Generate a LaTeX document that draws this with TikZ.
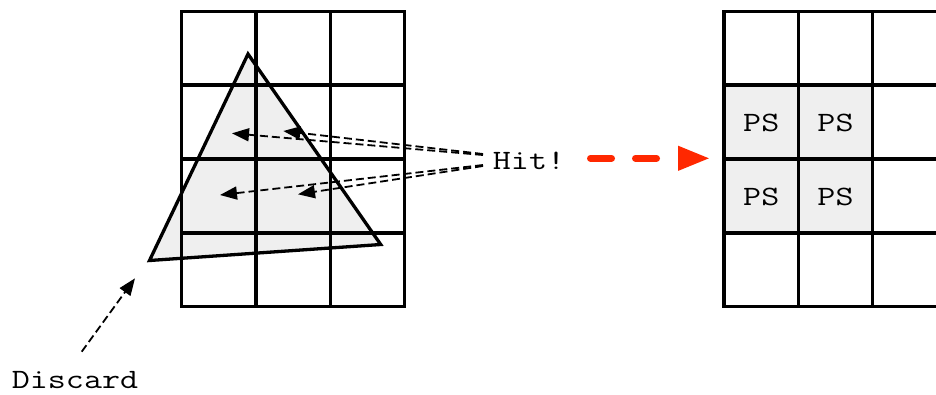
\documentclass[tikz,border=0pt]{standalone}
\usepackage{fontspec}
\usepackage{graphicx}
\usetikzlibrary{arrows.meta}
\definecolor{cellgray}{HTML}{EFEFEF}
\definecolor{hitred}{RGB}{255,40,0}
\newcommand\widetxt[1]{\scalebox{1.25}[1]{#1}}
\begin{document}
\begin{tikzpicture}[x=1pt,y=-1pt,
  gridline/.style={line width=3.3pt, line cap=rect},
  tri/.style={line width=3.3pt, line join=miter},
  ray/.style={line width=1.8pt, dash pattern=on 8pt off 4pt, -{Triangle[length=17pt,width=13pt]}},
  bigarrow/.style={hitred, line width=7pt, line cap=round, dash pattern=on 21pt off 24pt, -{Triangle[length=32pt,width=23pt]}},
  txt/.style={font=\fontsize{28}{32}\selectfont\ttfamily, inner sep=0pt}
]
\useasboundingbox (0,0) rectangle (936,394);
% triangle fill
\coordinate (A) at (248,54);
\coordinate (B) at (149.5,260.5);
\coordinate (C) at (380.7,244.5);
\fill[cellgray] (A)--(B)--(C)--cycle;
% left grid
\foreach \x in {181.5,256,330.5,404.5} \draw[gridline] (\x,11.5)--(\x,306.5);
\foreach \y in {11.5,85,159,233,306.5} \draw[gridline] (181.5,\y)--(404.5,\y);
% triangle outline
\draw[tri] (A)--(B)--(C)--cycle;
% right grid
\begin{scope}
\clip (0,0) rectangle (936,394);
\fill[cellgray] (724,85) rectangle (872.5,233);
\foreach \x in {724,798.5,872.5,947} \draw[gridline] (\x,11.5)--(\x,306.5);
\foreach \y in {11.5,85,159,233,306.5} \draw[gridline] (724,\y)--(947,\y);
\end{scope}
\node[txt] (ps1) at (761.25,123) {\widetxt{PS}};
\node[txt] (ps2) at (835.5,123) {\widetxt{PS}};
\node[txt] (ps3) at (761.25,197) {\widetxt{PS}};
\node[txt] (ps4) at (835.5,197) {\widetxt{PS}};
% labels
\node[txt] (hit) at (529,161) {\widetxt{Hit!}};
\node[txt] (discard) at (75,380) {\widetxt{Discard}};
% rays
\coordinate (h1) at (483,155);   \coordinate (t1) at (232,133.3);
\coordinate (h2) at (483,154);   \coordinate (t2) at (283.3,131);
\coordinate (h3) at (483,165);   \coordinate (t3) at (220,195);
\coordinate (h4) at (483,166);   \coordinate (t4) at (298,194.3);
\draw[ray] (h1) -- (t1);
\draw[ray] (h2) -- (t2);
\draw[ray] (h3) -- (t3);
\draw[ray] (h4) -- (t4);
% discard arrow
\coordinate (d0) at (81.7,351.7);
\coordinate (d1) at (135,278.3);
\draw[ray] (d0) -- (d1);
% red arrow
\coordinate (r0) at (590.5,158.3);
\coordinate (r1) at (710,158.3);
\draw[bigarrow] (r0) -- (r1);
\end{tikzpicture}
\end{document}
